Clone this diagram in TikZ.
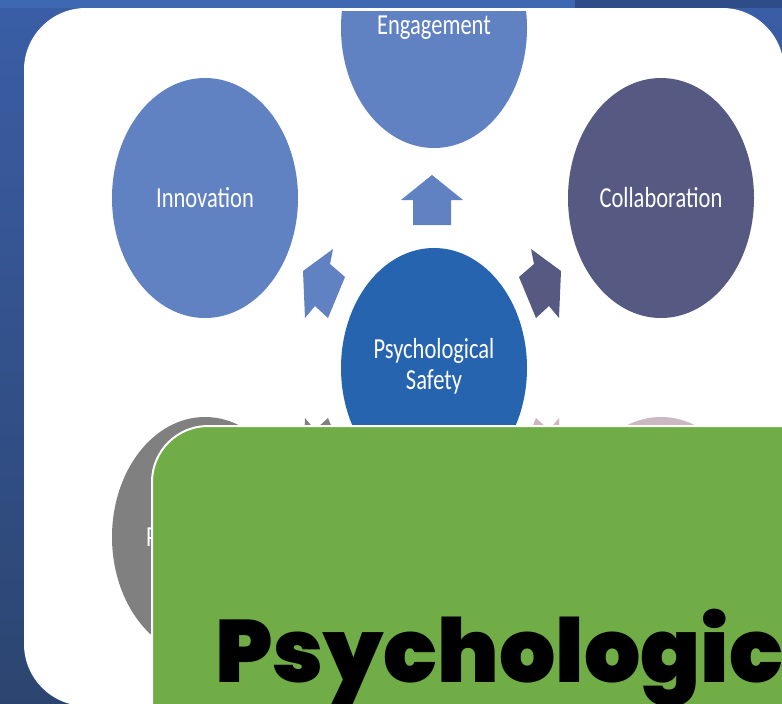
\documentclass[tikz,border=0pt]{standalone}
\usepackage{fontspec}
\setmainfont{Carlito}
\IfFontExistsTF{Poppins Black}
  {\newfontfamily\titlefont{Poppins Black}}
  {\newfontfamily\titlefont{Poppins}[FakeBold=4]}
\usepackage{graphicx}
\usetikzlibrary{shapes.geometric}

\definecolor{skyblue}{HTML}{6081C2}
\definecolor{slateblue}{HTML}{565A82}
\definecolor{coreblue}{HTML}{2664B0}
\definecolor{stonegray}{HTML}{808080}
\definecolor{mauve}{HTML}{CBB8C2}
\definecolor{leafgreen}{HTML}{70AD47}
\definecolor{bgtop}{HTML}{3A5EA6}
\definecolor{bgbottom}{HTML}{2C4570}
\definecolor{bandlight}{HTML}{3F68B3}
\definecolor{banddark}{HTML}{2E4C88}

% labels in the slide art are stretched upwards
\newcommand{\tallbox}[1]{\scalebox{1}[1.29]{#1}}

\begin{document}
\begin{tikzpicture}[x=1pt, y=-1pt,
        % circles of the radial chart
        bubble/.style={
            ellipse,
            minimum width=186pt,
            minimum height=240pt,
            inner sep=0pt,
            text=white,
            font=\fontsize{22.5}{23.3}\selectfont
        },
        caption/.style={
            text=white,
            inner sep=0pt,
            font=\fontsize{22.5}{23.3}\selectfont
        }
    ]
    \useasboundingbox (0,0) rectangle (782,704);
    \clip (0,0) rectangle (782,704);

    % ==========================================
    % BACKDROP AND CARD
    % ==========================================
    \shade[top color=bgtop, bottom color=bgbottom] (0,0) rectangle (782,704);
    \fill[bandlight] (0,0) rectangle (575,8);
    \fill[banddark] (575,0) rectangle (782,8);
    \fill[white, rounded corners=62pt] (24,8) rectangle (784,706);

    % ==========================================
    % RADIAL CHART
    % ==========================================
    \begin{scope}
        \clip (0,11) rectangle (782,704);

        % Arrows out of the centre
        \fill[skyblue] (432,175) -- (463,200) -- (451,200) -- (451,225)
            -- (413,225) -- (413,200) -- (401,200) -- cycle;
        \begin{scope}[shift={(432,368)}]
            \fill[skyblue] (-99,-119) -- (-102,-104) -- (-87,-91) -- (-104,-50)
                -- (-117,-62) -- (-127,-50) -- (-129,-97) -- cycle;
        \end{scope}
        \begin{scope}[shift={(432,368)}, xscale=-1]
            \fill[slateblue] (-99,-119) -- (-102,-104) -- (-87,-91) -- (-104,-50)
                -- (-117,-62) -- (-127,-50) -- (-129,-97) -- cycle;
        \end{scope}
        \begin{scope}[shift={(432,368)}, yscale=-1]
            \fill[stonegray] (-99,-119) -- (-102,-104) -- (-87,-91) -- (-104,-50)
                -- (-117,-62) -- (-127,-50) -- (-129,-97) -- cycle;
        \end{scope}
        \begin{scope}[shift={(432,368)}, xscale=-1, yscale=-1]
            \fill[mauve] (-99,-119) -- (-102,-104) -- (-87,-91) -- (-104,-50)
                -- (-117,-62) -- (-127,-50) -- (-129,-97) -- cycle;
        \end{scope}

        % Outer circles
        \node[bubble, fill=skyblue] (engage) at (434,28) {\tallbox{Engagement}};
        \node[bubble, fill=skyblue] (innov) at (205,198) {\tallbox{Innovation}};
        \node[bubble, fill=slateblue] (collab) at (661,198) {\tallbox{Collaboration}};
        \node[bubble, fill=stonegray] (perf) at (205,537) {};
        \node[caption, anchor=west] (perflabel) at (146,537) {\tallbox{P}};
        \node[bubble, fill=mauve] (trust) at (661,537) {};

        % Centre circle
        \node[bubble, fill=coreblue] (psych) at (434,368)
            {\tallbox{\begin{tabular}{@{}c@{}}Psychological\\Safety\end{tabular}}};
    \end{scope}

    % ==========================================
    % TITLE PANEL
    % ==========================================
    \draw[white, line width=2pt, fill=leafgreen, rounded corners=56pt]
        (152,426) rectangle (840,790);
    \node[anchor=base west, inner sep=0pt,
          font=\titlefont\fontsize{88.5}{88.5}\selectfont] (title) at (215,682) {Psychological};

\end{tikzpicture}
\end{document}
